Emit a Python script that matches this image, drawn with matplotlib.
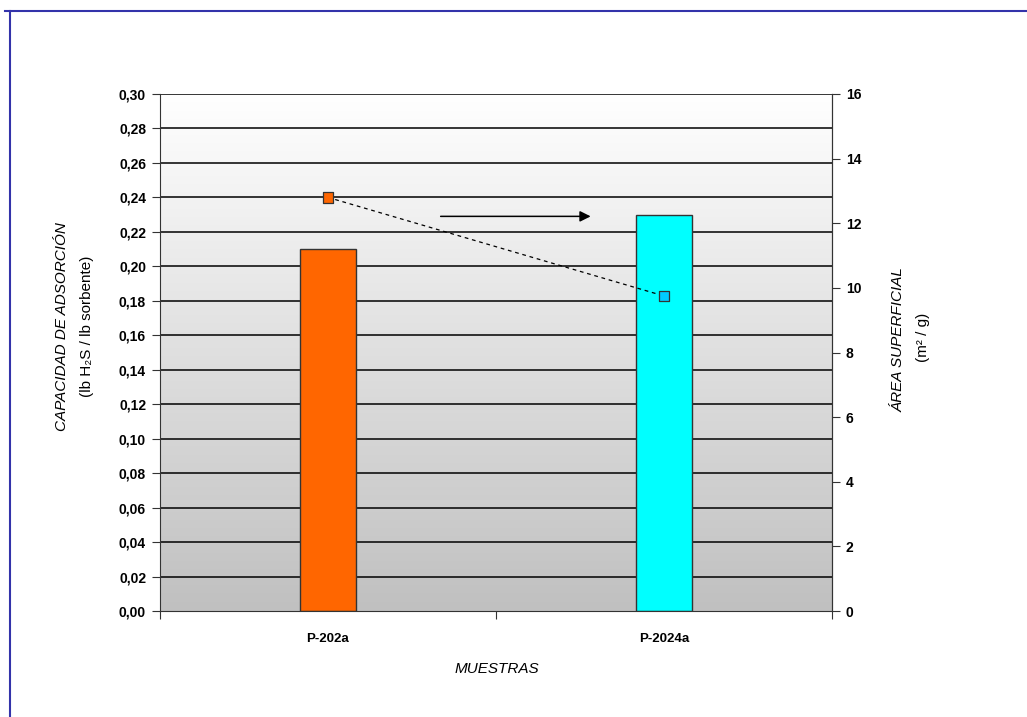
import numpy as np
import matplotlib
matplotlib.use("Agg")
import matplotlib.pyplot as plt
from matplotlib.lines import Line2D

plt.rcParams['font.family'] = ['Liberation Sans', 'DejaVu Sans']

# datos
muestras = ['P-202a', 'P-2024a']
capacidad = [0.21, 0.23]          # lb H2S / lb sorbente
area = [12.8, 9.75]               # m2 / g
colores_barra = ['#FF6600', '#00FFFF']
colores_marca = ['#FF6600', '#00CCFF']
ticks_izq = np.arange(0, 0.301, 0.02)
ticks_der = np.arange(0, 17, 2)

fig = plt.figure(figsize=(10.27, 7.17), dpi=100)
ax = fig.add_axes([0.1558, 0.1478, 0.6543, 0.7211])

# fondo degradado gris (abajo) -> blanco (arriba)
grad = np.linspace(0, 1, 256).reshape(-1, 1)
cmap = matplotlib.colors.LinearSegmentedColormap.from_list('fondo', ['#FFFFFF', '#C0C0C0'])
ax.imshow(grad, cmap=cmap, aspect='auto', extent=[0, 2, 0, 0.30], zorder=0)

x = np.arange(len(muestras)) + 0.5
ax.set_xlim(0, 2)
ax.set_ylim(0, 0.30)
for yv in ticks_izq[1:]:
    ax.axhline(yv, color='black', lw=1.1, zorder=1)
ax.bar(x, capacidad, width=0.167, color=colores_barra, edgecolor='#333333', lw=1, zorder=2)

ax.set_yticks(ticks_izq)
ax.set_yticklabels([f'{v:.2f}'.replace('.', ',') for v in ticks_izq], fontsize=10, fontweight='bold')
ax.set_xticks([0, 1, 2])
ax.set_xticklabels([])
ax.set_xticks(x, minor=True)
ax.set_xticklabels(muestras, minor=True, fontsize=9.5, fontweight='bold')
ax.tick_params(axis='x', which='minor', length=0, pad=16)
ax.tick_params(axis='x', which='major', length=6, direction='out', color='#333333')
ax.tick_params(axis='y', length=6, direction='out', color='#333333', pad=4)
ax.spines['top'].set_visible(False)
for s in ['left', 'bottom', 'right']:
    ax.spines[s].set_color('#333333')

# eje secundario: área superficial
ax2 = ax.twinx()
ax2.set_ylim(0, 16)
ax2.set_yticks(ticks_der)
ax2.set_yticklabels([str(v) for v in ticks_der], fontsize=10, fontweight='bold')
ax2.tick_params(axis='y', length=6, direction='out', color='#333333', pad=4)
for s in ['top', 'left', 'bottom']:
    ax2.spines[s].set_visible(False)
ax2.spines['right'].set_color('#333333')
ax2.plot(x, area, color='black', lw=0.9, ls=(0, (3, 3)), zorder=3)
ax2.scatter(x, area, marker='s', s=55, c=colores_marca, edgecolors='#333333', linewidths=0.9, zorder=4)

ax.annotate('', xy=(1.29, 0.229), xytext=(0.827, 0.229),
            arrowprops=dict(arrowstyle='-|>', color='black', lw=1.1, mutation_scale=16), zorder=5)

# títulos de ejes
fig.text(0.060, 0.545, 'CAPACIDAD DE ADSORCIÓN', rotation=90, ha='center', va='center',
         fontsize=11, style='italic')
fig.text(0.085, 0.545, '(lb H\u2082S / lb sorbente)', rotation=90, ha='center', va='center',
         fontsize=11)
fig.text(0.875, 0.527, 'ÁREA SUPERFICIAL', rotation=90, ha='center', va='center',
         fontsize=11, style='italic')
fig.text(0.899, 0.530, '(m\u00b2 / g)', rotation=90, ha='center', va='center', fontsize=11)
fig.text(0.484, 0.067, 'MUESTRAS', ha='center', va='center', fontsize=11, style='italic')

# marco
fig.add_artist(Line2D([0.005, 1.0], [0.985, 0.985], color='#3333AA', lw=1.5, transform=fig.transFigure))
fig.add_artist(Line2D([0.0095, 0.0095], [0.0, 0.985], color='#3333AA', lw=1.5, transform=fig.transFigure))

fig.savefig('out.png', dpi=100)
